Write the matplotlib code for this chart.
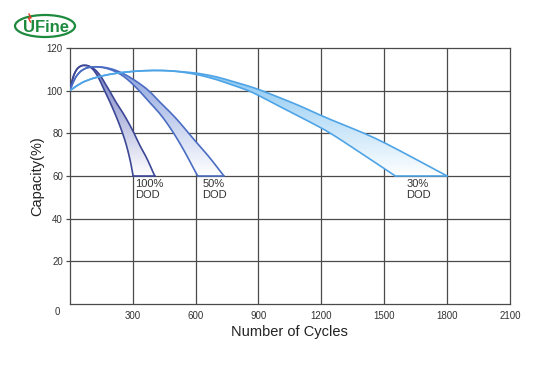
import numpy as np
import matplotlib
matplotlib.use('Agg')
from matplotlib import pyplot as plt
from matplotlib.patches import PathPatch, Ellipse
from matplotlib.path import Path
from matplotlib.lines import Line2D
from matplotlib.colors import LinearSegmentedColormap

plt.rcParams['font.family'] = ['Liberation Sans', 'DejaVu Sans']

# 100% DOD band (cycles, capacity %)
dod100_inner_x = [0, 8, 24, 45, 71, 95, 120, 145, 165, 190, 213, 235, 252, 270, 283, 293, 302]
dod100_inner_y = [100, 104, 108.8, 111.4, 112, 111.3, 109, 104.5, 100, 95, 89.8, 84.5, 80, 74.5, 69.4, 65, 60]
dod100_outer_x = [0, 8, 24, 45, 71, 100, 125, 150, 170, 189, 220, 252, 280, 307, 335, 362, 385, 405]
dod100_outer_y = [100, 104, 108.8, 111.4, 112, 111.3, 109.5, 106.5, 103, 100, 94.5, 89.8, 85, 80, 74, 69.4, 64.5, 60]

# 50% DOD band
dod50_inner_x = [0, 15, 35, 60, 90, 125, 160, 197, 230, 260, 295, 331, 380, 425, 462, 496, 530, 559, 585, 610]
dod50_inner_y = [100, 104, 107.5, 109.8, 111, 111.2, 110.8, 109.8, 108.3, 106.5, 103.5, 100, 94.5, 89.8, 85, 80, 74.5, 69.4, 64.5, 60]
dod50_outer_x = [0, 15, 35, 60, 90, 125, 160, 200, 240, 283, 330, 378, 430, 480, 525, 567, 615, 661, 700, 735]
dod50_outer_y = [100, 104, 107.5, 109.8, 111, 111.2, 111, 110.2, 108.7, 106.5, 103.5, 100, 94.5, 89.8, 85, 80, 74.5, 69.4, 64.5, 60]

# 30% DOD band
dod30_top_x = [0, 40, 80, 150, 230, 310, 400, 480, 550, 615, 700, 773, 850, 900, 993, 1100, 1200, 1300, 1410, 1500, 1650, 1800]
dod30_top_y = [100, 102.8, 104.8, 106.9, 108.3, 109.1, 109.5, 109.3, 108.7, 108.1, 106.5, 104.4, 102.2, 100.6, 97, 92.8, 88.2, 84.2, 79.8, 75.7, 67.9, 60]
dod30_bot_x = [0, 40, 80, 150, 230, 310, 400, 480, 550, 615, 700, 773, 850, 900, 1000, 1100, 1200, 1244, 1300, 1400, 1500, 1553]
dod30_bot_y = [100, 102.8, 104.8, 106.9, 108.3, 109.1, 109.5, 109.3, 108.5, 107.4, 105.2, 102.7, 100.1, 97.8, 92.6, 87.6, 82.5, 80, 76.5, 70, 63.5, 60]

x_ticks = [300, 600, 900, 1200, 1500, 1800, 2100]
y_ticks = [20, 40, 60, 80, 100, 120]

bands = [
    (dod100_inner_x, dod100_inner_y, dod100_outer_x, dod100_outer_y, '#3c4796', '#6670bd', '100%\nDOD', 312),
    (dod50_inner_x, dod50_inner_y, dod50_outer_x, dod50_outer_y, '#4a6cc2', '#7d97d9', '50%\nDOD', 632),
    (dod30_bot_x, dod30_bot_y, dod30_top_x, dod30_top_y, '#4ea4e6', '#74bdf0', '30%\nDOD', 1605),
]


def smooth(xs, ys):
    # quadratic bezier through midpoints, so the drawn curve is smooth
    p = list(zip(xs, ys))
    verts, codes = [], []
    for i in range(1, len(p) - 1):
        mid = ((p[i][0] + p[i + 1][0]) / 2, (p[i][1] + p[i + 1][1]) / 2)
        if i == len(p) - 2:
            mid = p[i + 1]
        verts += [p[i], mid]
        codes += [Path.CURVE3, Path.CURVE3]
    return p[0], verts, codes


def main():
    fig = plt.figure(figsize=(5.5, 3.8), dpi=100)
    ax = fig.add_axes([0.127, 0.2, 0.8, 0.674])

    grid_c = '#4a4a4a'
    for x in x_ticks[:-1]:
        ax.axvline(x, color=grid_c, lw=0.9, zorder=1)
    for y in y_ticks[:-1]:
        ax.axhline(y, color=grid_c, lw=0.9, zorder=1)

    grad = np.linspace(0, 1, 256).reshape(-1, 1)
    for ix, iy, ox, oy, line_c, fill_c, label, lx in bands:
        s0, iv, ic = smooth(ix, iy)
        e0, ov, oc = smooth(ox[::-1], oy[::-1])
        band = Path([s0] + iv + [e0] + ov + [s0],
                    [Path.MOVETO] + ic + [Path.LINETO] + oc + [Path.CLOSEPOLY])
        patch = PathPatch(band, facecolor='none', edgecolor='none')
        ax.add_patch(patch)
        cmap = LinearSegmentedColormap.from_list('b', ['#ffffff', fill_c])
        im = ax.imshow(grad, extent=[0, 2100, 60, 112], origin='lower',
                       cmap=cmap, vmin=0, vmax=1.1, aspect='auto', zorder=2)
        im.set_clip_path(patch)
        for xs, ys in [(ix, iy), (ox, oy)]:
            a0, v, c = smooth(xs, ys)
            ax.add_patch(PathPatch(Path([a0] + v, [Path.MOVETO] + c),
                                   facecolor='none', edgecolor=line_c,
                                   lw=1.2, zorder=3))
        ax.plot([ix[-1], ox[-1]], [60, 60], color=line_c, lw=1.2, zorder=3)
        ax.text(lx, 58.5, label, fontsize=8, color='#333333', va='top', ha='left',
                linespacing=1.05, zorder=4)

    ax.set_xlim(0, 2100)
    ax.set_ylim(0, 120)
    ax.set_xticks(x_ticks)
    ax.set_yticks(y_ticks)
    ax.tick_params(axis='x', length=0, pad=5, labelsize=7, labelcolor='#333333')
    ax.tick_params(axis='y', length=3, width=0.9, color=grid_c, pad=2,
                   labelsize=7, labelcolor='#333333')
    for s in ax.spines.values():
        s.set_color(grid_c)
        s.set_linewidth(0.9)
    ax.text(-0.022, -0.012, '0', transform=ax.transAxes, fontsize=7,
            color='#333333', ha='right', va='top')

    ax.set_xlabel('Number of Cycles', fontsize=10.5, color='#222222', labelpad=3)
    ax.set_ylabel('Capacity(%)', fontsize=10.5, color='#222222', labelpad=2)

    # logo
    fig.add_artist(Ellipse((45 / 550, 1 - 26 / 380), 60 / 550, 22 / 380,
                           transform=fig.transFigure, facecolor='none',
                           edgecolor='#1e8a3e', lw=1.6))
    fig.text(46 / 550, 1 - 27 / 380, 'UFine', fontsize=12, fontweight='bold',
             color='#1e8a3e', ha='center', va='center')
    fig.add_artist(Line2D([29 / 550, 31 / 550, 28.5 / 550, 30.5 / 550],
                          [1 - 14 / 380, 1 - 18 / 380, 1 - 18 / 380, 1 - 22 / 380],
                          transform=fig.transFigure, color='#e03a1e', lw=1.0))

    fig.savefig('out.png', dpi=100)


if __name__ == '__main__':
    main()
